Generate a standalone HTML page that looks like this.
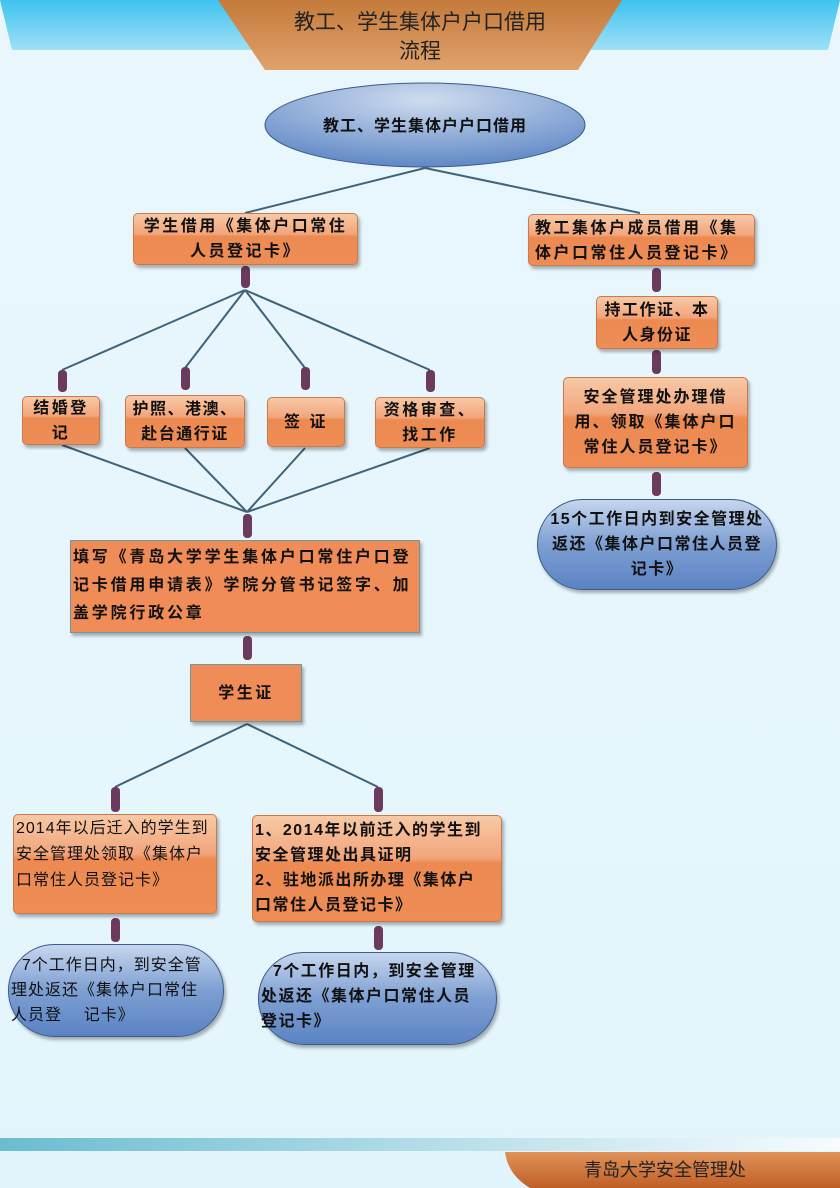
<!DOCTYPE html>
<html><head><meta charset="utf-8"><style>
body{margin:0}
#p{position:relative;width:840px;height:1188px;overflow:hidden;background:linear-gradient(180deg,#e9f7fd,#e3f5fc);font-family:"Liberation Sans","Noto Sans CJK SC",sans-serif}
.b{position:absolute;box-sizing:border-box;background:linear-gradient(180deg,#f7c9a6 0%,#f2a57b 40%,#ec8a52 45%,#ee8d55 100%);border:1px solid #c87a4a;border-radius:5px;box-shadow:2px 3px 3px rgba(0,0,0,.3);font-weight:bold;font-size:16px;line-height:25px;color:#111;padding:1px 4px;letter-spacing:2.5px;white-space:nowrap}
.c{text-align:center;display:flex;align-items:center;justify-content:center}
.sq{border-radius:0;background:#ef8c57;border:1px solid #6a9aa0}
.pill{position:absolute;box-sizing:border-box;border-radius:46px;background:linear-gradient(180deg,#c6d6ee,#7d9fd2 50%,#5b83c3);border:1px solid #3c5a8a;box-shadow:2px 3px 3px rgba(0,0,0,.3);font-weight:bold;font-size:16px;line-height:25px;color:#111;letter-spacing:1.5px;white-space:nowrap}
svg{position:absolute;left:0;top:0}
</style></head><body><div id="p">
<svg width="840" height="1188">
<defs><linearGradient id="bl" x1="0" y1="0" x2="0" y2="1"><stop offset="0" stop-color="#3ec2ee"/><stop offset="1" stop-color="#9ee0f7"/></linearGradient>
<linearGradient id="or" x1="0" y1="0" x2="0" y2="1"><stop offset="0" stop-color="#c47a3a"/><stop offset="1" stop-color="#e0a26c"/></linearGradient>
<linearGradient id="bt" x1="0" y1="0" x2="1" y2="0"><stop offset="0" stop-color="#6bbcd2"/><stop offset="0.7" stop-color="#cfe9f0"/><stop offset="1" stop-color="#f6fcfe"/></linearGradient>
<linearGradient id="ft" x1="0" y1="0" x2="0" y2="1"><stop offset="0" stop-color="#e0935a"/><stop offset="1" stop-color="#bf5f26"/></linearGradient>
<radialGradient id="el" cx=".5" cy=".2" r=".8"><stop offset="0" stop-color="#cfdcef"/><stop offset="1" stop-color="#5f88c6"/></radialGradient></defs>
<path d="M0 0H840L828 50H12Z" fill="url(#bl)"/>
<path d="M218 0H622L578 70H265Z" fill="url(#or)"/>
<rect x="0" y="1138" width="840" height="13" fill="url(#bt)"/>
<path d="M505 1152H840V1188H530Q508 1175 505 1152Z" fill="url(#ft)"/>
<ellipse cx="425" cy="125" rx="160" ry="42" fill="url(#el)" stroke="#3c5a8a"/>
<g stroke="#3f6378" stroke-width="2" fill="none">
<path d="M425 168L245 213M425 168L640 213"/>
<path d="M245 290L62 370M245 290L185 368M245 290L305 368M245 290L430 370"/>
<path d="M62 445L247 512M185 448L247 512M305 448L247 512M430 448L247 512"/>
<path d="M247 724L115 787M247 724L378 787"/>
</g>
<g fill="#6b3a5c">
<rect x="241" y="266" width="9" height="22" rx="4"/><rect x="652" y="268" width="9" height="24" rx="4"/>
<rect x="58" y="370" width="9" height="22" rx="4"/><rect x="181" y="367" width="9" height="23" rx="4"/>
<rect x="301" y="367" width="9" height="23" rx="4"/><rect x="426" y="370" width="9" height="22" rx="4"/>
<rect x="243" y="514" width="9" height="24" rx="4"/><rect x="243" y="636" width="9" height="24" rx="4"/>
<rect x="111" y="787" width="9" height="25" rx="4"/><rect x="374" y="787" width="9" height="25" rx="4"/>
<rect x="111" y="918" width="9" height="24" rx="4"/><rect x="374" y="926" width="9" height="24" rx="4"/>
<rect x="652" y="350" width="9" height="24" rx="4"/><rect x="652" y="472" width="9" height="24" rx="4"/>
</g>
<g font-family="Liberation Sans,Noto Sans CJK SC,sans-serif" fill="#222">
<text x="420" y="29" font-size="21" text-anchor="middle">教工、学生集体户户口借用</text>
<text x="420" y="58" font-size="21" text-anchor="middle">流程</text>
<text x="425" y="131" font-size="16" font-weight="bold" text-anchor="middle" fill="#111" letter-spacing="1">教工、学生集体户户口借用</text>
<text x="665" y="1176" font-size="18" text-anchor="middle">青岛大学安全管理处</text>
</g>
</svg>
<div class="b c" style="left:133px;top:213px;width:225px;height:52px">学生借用《集体户口常住<br>人员登记卡》</div>
<div class="b" style="left:528px;top:214px;width:227px;height:52px;padding-left:6px">教工集体户成员借用《集<br>体户口常住人员登记卡》</div>
<div class="b c" style="left:22px;top:396px;width:78px;height:49px">结婚登<br>记</div>
<div class="b c" style="left:125px;top:395px;width:120px;height:53px;letter-spacing:1.5px">护照、港澳、<br>赴台通行证</div>
<div class="b c" style="left:267px;top:397px;width:78px;height:50px">签 证</div>
<div class="b c" style="left:375px;top:397px;width:110px;height:51px">资格审查、<br>找工作</div>
<div class="b sq" style="left:70px;top:540px;width:350px;height:93px;padding:3px 2px;line-height:28px;letter-spacing:2.8px">填写《青岛大学学生集体户口常住户口登<br>记卡借用申请表》学院分管书记签字、加<br>盖学院行政公章</div>
<div class="b sq c" style="left:190px;top:664px;width:112px;height:58px">学生证</div>
<div class="b" style="left:13px;top:814px;width:204px;height:100px;padding:1px 2px;line-height:26px;font-weight:normal;letter-spacing:1px">2014年以后迁入的学生到<br>安全管理处领取《集体户<br>口常住人员登记卡》</div>
<div class="b" style="left:252px;top:815px;width:250px;height:107px;padding:2px 2px;line-height:25px;letter-spacing:1.5px">1、2014年以前迁入的学生到<br>安全管理处出具证明<br>2、驻地派出所办理《集体户<br>口常住人员登记卡》</div>
<div class="pill" style="left:8px;top:944px;width:216px;height:93px;padding:8px 0 0 2px;font-weight:normal;letter-spacing:1px">&nbsp;&nbsp;7个工作日内，到安全管<br>理处返还《集体户口常住<br>人员登 &nbsp;&nbsp;&nbsp;记卡》</div>
<div class="pill" style="left:258px;top:952px;width:239px;height:93px;padding:6px 0 0 2px">&nbsp;&nbsp;7个工作日内，到安全管理<br>处返还《集体户口常住人员<br>登记卡》</div>
<div class="b c" style="left:596px;top:296px;width:122px;height:53px;letter-spacing:1.5px">持工作证、本<br>人身份证</div>
<div class="b c" style="left:563px;top:377px;width:185px;height:91px;letter-spacing:2px">安全管理处办理借<br>用、领取《集体户口<br>常住人员登记卡》</div>
<div class="pill" style="left:537px;top:499px;width:240px;height:91px;padding:7px 0;text-align:center">15个工作日内到安全管理处<br>返还《集体户口常住人员登<br>记卡》</div>
</div></body></html>
